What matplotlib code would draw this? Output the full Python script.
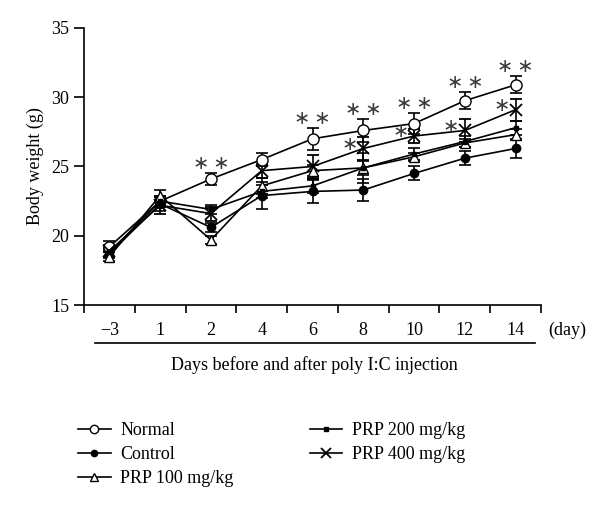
import matplotlib
matplotlib.use("Agg")
import matplotlib.pyplot as plt
from matplotlib.lines import Line2D
import numpy as np

plt.rcParams["font.family"] = ["Liberation Serif", "DejaVu Serif"]

days = ["\u22123", "1", "2", "4", "6", "8", "10", "12", "14"]

normal = [19.2, 22.5, 24.1, 25.5, 27.0, 27.6, 28.1, 29.75, 30.9]
normal_err = [0.4, 0.4, 0.4, 0.5, 0.8, 0.8, 0.75, 0.6, 0.6]
control = [18.7, 22.3, 20.6, 22.9, 23.2, 23.3, 24.5, 25.6, 26.3]
control_err = [0.3, 0.5, 0.3, 1.0, 0.8, 0.8, 0.5, 0.5, 0.7]
prp100 = [18.5, 22.9, 19.7, 23.6, 24.7, 24.9, 25.7, 26.7, 27.3]
prp100_err = [0.3, 0.4, 0.3, 0.6, 0.4, 0.5, 0.3, 0.3, 0.4]
prp200 = [18.8, 22.5, 21.9, 23.2, 23.6, 24.9, 25.9, 26.8, 27.8]
prp200_err = [0.3, 0.4, 0.3, 0.5, 0.5, 1.1, 0.4, 0.4, 0.5]
prp400 = [18.9, 22.2, 21.6, 24.7, 25.0, 26.3, 27.2, 27.6, 29.1]
prp400_err = [0.4, 0.6, 0.5, 0.5, 0.8, 0.8, 0.5, 0.8, 0.8]

# significance marks: "**" over Normal, "*" beside PRP 400
star2_idx = [2, 4, 5, 6, 7, 8]
star1_idx = [5, 6, 7, 8]

series = [
    ("Normal", normal, normal_err, dict(marker="o", ms=8, mfc="white")),
    ("Control", control, control_err, dict(marker="o", ms=6, mfc="black")),
    ("PRP 100 mg/kg", prp100, prp100_err, dict(marker="^", ms=7, mfc="white")),
    ("PRP 200 mg/kg", prp200, prp200_err, dict(marker="s", ms=3.5, mfc="black")),
    ("PRP 400 mg/kg", prp400, prp400_err, dict(marker="x", ms=9, mew=1.3)),
]

fig = plt.figure(figsize=(6.0, 5.08), dpi=100)
ax = fig.add_axes([0.14, 0.3996, 0.7617, 0.5453])

x = np.arange(len(days))
handles = []
for name, y, e, st in series:
    ax.errorbar(x, y, yerr=e, color="black", mec="black", lw=1.2,
                elinewidth=1.2, capsize=4, capthick=1.2, **st)
    leg_st = dict(st)
    leg_st["ms"] = st["ms"] * 0.75
    handles.append(Line2D([], [], color="black", mec="black", lw=1.2,
                          label=name, **leg_st))

star_font = dict(family="DejaVu Sans", fontsize=14, color="#3a3a3a",
                 ha="center", va="center")
for i in star2_idx:
    ax.text(x[i], normal[i] + normal_err[i] + 0.7, "\u2217\u2009\u2217",
            **star_font)
for i in star1_idx:
    ax.text(x[i] - 0.27, prp400[i] + 0.3, "\u2217", **star_font)

ax.set_xlim(-0.5, len(days) - 0.5)
ax.set_ylim(15, 35)
ax.set_yticks([15, 20, 25, 30, 35])
ax.set_xticks(np.arange(-0.5, len(days), 1.0))
ax.set_xticklabels([])
ax.set_xticks(x, minor=True)
ax.set_xticklabels(days, minor=True)
ax.tick_params(axis="x", which="minor", length=0, pad=12, labelsize=13)
ax.tick_params(axis="x", which="major", length=6, direction="out", width=1.2)
ax.tick_params(axis="y", length=7, direction="out", width=1.2, labelsize=13)
for s in ("top", "right"):
    ax.spines[s].set_visible(False)
for s in ("left", "bottom"):
    ax.spines[s].set_linewidth(1.2)

ax.set_ylabel("Body weight (g)", fontsize=13, labelpad=5)
ax.text(1.015, -0.09, "(day)", transform=ax.transAxes, fontsize=13,
        ha="left", va="center")
ax.add_artist(Line2D([0.024, 0.987], [-0.137, -0.137], transform=ax.transAxes,
                     color="black", lw=1.2, clip_on=False))
ax.text(0.505, -0.217, "Days before and after poly I:C injection",
        transform=ax.transAxes, fontsize=13, ha="center", va="center")

fig.legend(handles=handles, loc="upper left", bbox_to_anchor=(0.13, 0.169),
           ncol=2, frameon=False, fontsize=13, handlelength=1.8,
           labelspacing=0.38, columnspacing=4.2, borderpad=0,
           borderaxespad=0, handletextpad=0.55)

fig.savefig("out.png", dpi=100)
